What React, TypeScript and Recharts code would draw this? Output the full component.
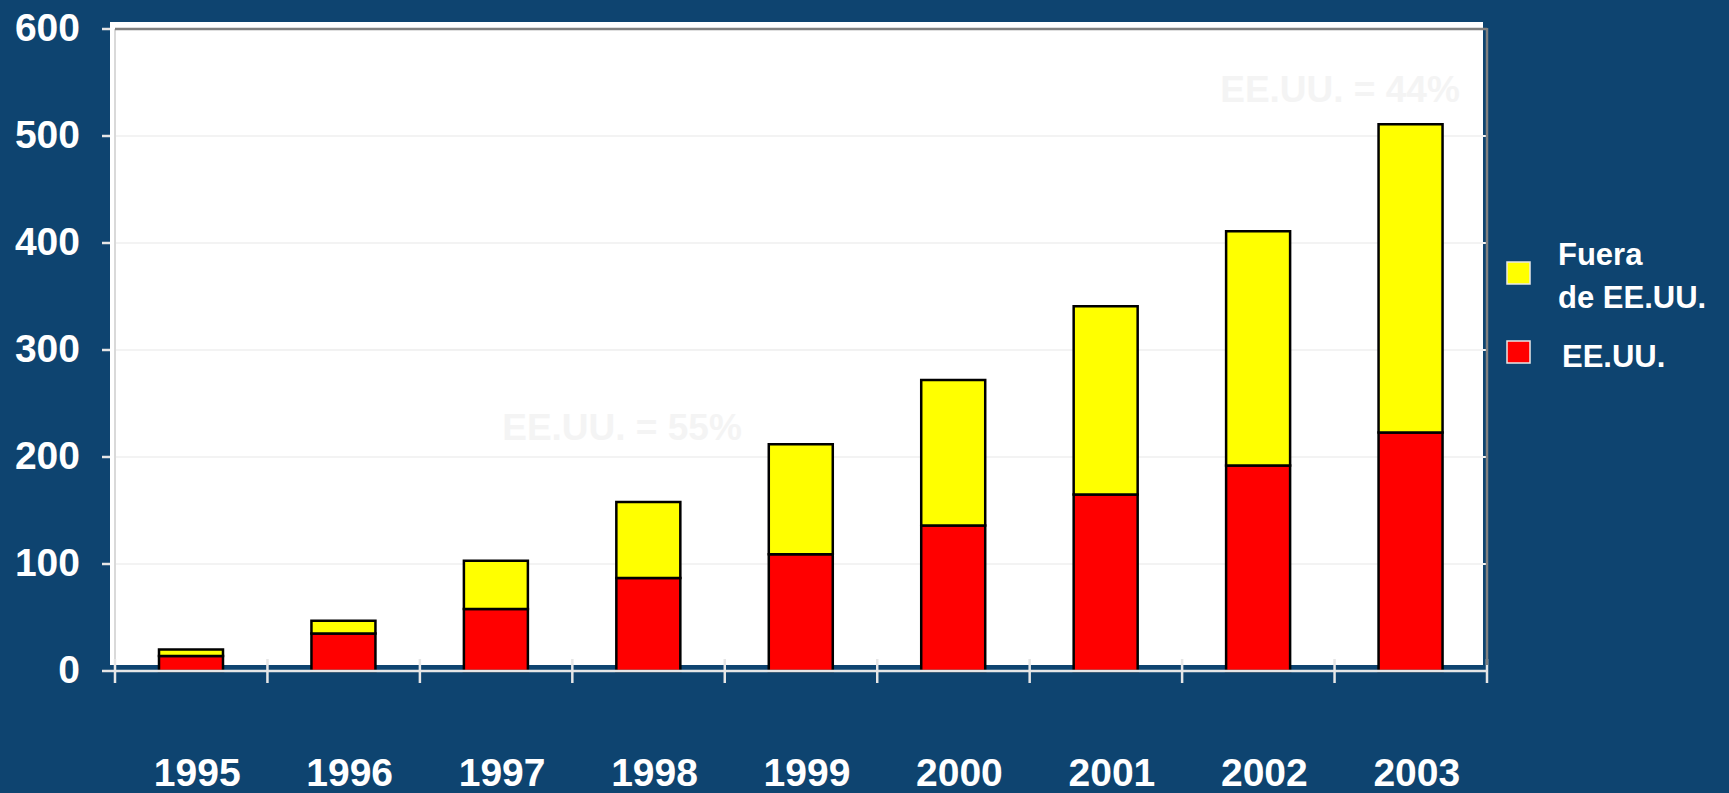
import React from 'react';
import { BarChart, Bar, XAxis, YAxis, CartesianGrid } from 'recharts';

const years = ['1995', '1996', '1997', '1998', '1999', '2000', '2001', '2002', '2003'];
const usValues = [14, 35, 58, 87, 109, 136, 165, 192, 223];
const outsideValues = [6, 12, 45, 71, 103, 136, 176, 219, 288];
const yTicks = [0, 100, 200, 300, 400, 500, 600];
const legendOutsideLines = ['Fuera', 'de EE.UU.'];
const legendUs = 'EE.UU.';
const note55 = 'EE.UU. = 55%';
const note44 = 'EE.UU. = 44%';

const data = years.map((year, i) => ({ year, us: usValues[i], outside: outsideValues[i] }));

const W = 1729;
const H = 793;
const PLOT_LEFT = 115;
const PLOT_RIGHT = 1487;
const PLOT_TOP = 29;
const PLOT_BOTTOM = 671;
const BG = '#0E4470';
const FONT = '"Liberation Sans", Arial, Helvetica, sans-serif';

const YTick = (props: any) => {
  const { y, payload } = props;
  const isZero = payload.value === 0;
  return (
    <g>
      <line x1={102} x2={isZero ? PLOT_LEFT : 110} y1={y} y2={y} stroke="#e6e6e6" strokeWidth={2.5} />
      <text x={80} y={y + 11.5} textAnchor="end" fill="#ffffff" fontFamily={FONT} fontWeight="bold" fontSize={39}>
        {payload.value}
      </text>
    </g>
  );
};

const XTick = (props: any) => {
  const { x, payload, index } = props;
  const band = (PLOT_RIGHT - PLOT_LEFT) / years.length;
  return (
    <g>
      <line x1={x - band / 2} x2={x - band / 2} y1={PLOT_BOTTOM - 12} y2={PLOT_BOTTOM + 12} stroke="#e6e6e6" strokeWidth={2.5} />
      {index === years.length - 1 && (
        <line x1={x + band / 2} x2={x + band / 2} y1={PLOT_BOTTOM - 12} y2={PLOT_BOTTOM + 12} stroke="#e6e6e6" strokeWidth={2.5} />
      )}
      <text x={x + 6} y={786} textAnchor="middle" fill="#ffffff" fontFamily={FONT} fontWeight="bold" fontSize={39}>
        {payload.value}
      </text>
    </g>
  );
};

export default function App() {
  return (
    <div style={{ position: 'fixed', left: 0, top: 0, width: W, height: H, background: BG, overflow: 'hidden' }}>
      <svg width={W} height={H} style={{ position: 'absolute', left: 0, top: 0 }}>
        <rect x={110} y={22} width={1373} height={643} fill="#ffffff" />
        <text x={622} y={440} textAnchor="middle" fill="#f4f4f4" fontFamily={FONT} fontWeight="bold" fontSize={37}>
          {note55}
        </text>
        <text x={1340} y={102} textAnchor="middle" fill="#f4f4f4" fontFamily={FONT} fontWeight="bold" fontSize={37}>
          {note44}
        </text>
      </svg>
      <div style={{ position: 'absolute', left: 0, top: 0 }}>
        <BarChart
          width={W}
          height={H}
          data={data}
          margin={{ top: PLOT_TOP, right: W - PLOT_RIGHT, bottom: H - PLOT_BOTTOM - 30, left: PLOT_LEFT - 60 }}
          barSize={64}
        >
          <CartesianGrid horizontal={true} vertical={false} stroke="#f3f3f3" strokeWidth={2} />
          <YAxis
            width={60}
            domain={[0, 600]}
            ticks={yTicks}
            interval={0}
            axisLine={{ stroke: '#d9d9d9', strokeWidth: 2 }}
            tickLine={false}
            tick={<YTick />}
          />
          <XAxis
            dataKey="year"
            height={30}
            interval={0}
            axisLine={{ stroke: '#e6e6e6', strokeWidth: 2.5 }}
            tickLine={false}
            tick={<XTick />}
          />
          <Bar dataKey="us" stackId="a" fill="#ff0000" stroke="#000000" strokeWidth={2.5} isAnimationActive={false} />
          <Bar dataKey="outside" stackId="a" fill="#ffff00" stroke="#000000" strokeWidth={2.5} isAnimationActive={false} />
        </BarChart>
      </div>
      <svg width={W} height={H} style={{ position: 'absolute', left: 0, top: 0, pointerEvents: 'none' }}>
        <line x1={PLOT_LEFT} x2={PLOT_RIGHT} y1={PLOT_TOP} y2={PLOT_TOP} stroke="#808080" strokeWidth={2.5} />
        <line x1={PLOT_RIGHT} x2={PLOT_RIGHT} y1={PLOT_TOP - 1} y2={665} stroke="#808080" strokeWidth={2.5} />
        <rect x={1507} y={262} width={23} height={22} fill="#ffff00" stroke="#e8e8e8" strokeWidth={1.5} />
        <rect x={1507} y={341} width={23} height={22} fill="#ff0000" stroke="#e8e8e8" strokeWidth={1.5} />
        <text x={1558} y={265} fill="#ffffff" fontFamily={FONT} fontWeight="bold" fontSize={31}>
          {legendOutsideLines[0]}
        </text>
        <text x={1558} y={308} fill="#ffffff" fontFamily={FONT} fontWeight="bold" fontSize={31}>
          {legendOutsideLines[1]}
        </text>
        <text x={1562} y={367} fill="#ffffff" fontFamily={FONT} fontWeight="bold" fontSize={31}>
          {legendUs}
        </text>
      </svg>
    </div>
  );
}
